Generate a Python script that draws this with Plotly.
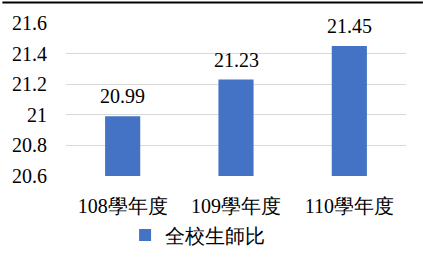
import plotly.graph_objects as go

categories = ["108學年度", "109學年度", "110學年度"]
values = [20.99, 21.23, 21.45]
value_labels = ["20.99", "21.23", "21.45"]
series_name = "全校生師比"
y_ticks = [20.6, 20.8, 21.0, 21.2, 21.4, 21.6]
y_tick_labels = ["20.6", "20.8", "21", "21.2", "21.4", "21.6"]

FONT = "Liberation Serif"

fig = go.Figure()
fig.add_trace(go.Bar(
    x=categories, y=values, name=series_name,
    marker=dict(color="#4472C4", line=dict(width=0)),
))

for c, v, t in zip(categories, values, value_labels):
    fig.add_annotation(x=c, y=v, text=t, showarrow=False, yanchor="bottom",
                       yshift=7, font=dict(family=FONT, size=20, color="#000000"))

fig.update_layout(
    width=423, height=266,
    margin=dict(l=64, r=17, t=22, b=88),
    paper_bgcolor="white", plot_bgcolor="white",
    bargap=0.69,
    showlegend=True,
    legend=dict(orientation="h", x=0.387, xanchor="center", y=-0.385, yanchor="middle",
                font=dict(family=FONT, size=20, color="#000000"),
                bgcolor="rgba(0,0,0,0)"),
    font=dict(family=FONT, size=20, color="#000000"),
    xaxis=dict(showgrid=False, showline=False, zeroline=False,
               ticks="outside", ticklen=12, tickcolor="rgba(0,0,0,0)",
               tickfont=dict(family=FONT, size=20, color="#000000")),
    yaxis=dict(range=[20.6, 21.6], tickvals=y_ticks, ticktext=y_tick_labels,
               showgrid=True, gridcolor="#d9d9d9", gridwidth=1,
               zeroline=False, showline=False,
               ticks="outside", ticklen=14, tickcolor="rgba(0,0,0,0)",
               tickfont=dict(family=FONT, size=20, color="#000000")),
)

# top black border line across the image
fig.add_shape(type="rect", xref="paper", yref="paper",
              x0=-64/342, x1=1+17/342, y0=1+20/156, y1=1+22/156,
              line=dict(width=0), fillcolor="black", layer="above")

fig.write_html("out.html")
